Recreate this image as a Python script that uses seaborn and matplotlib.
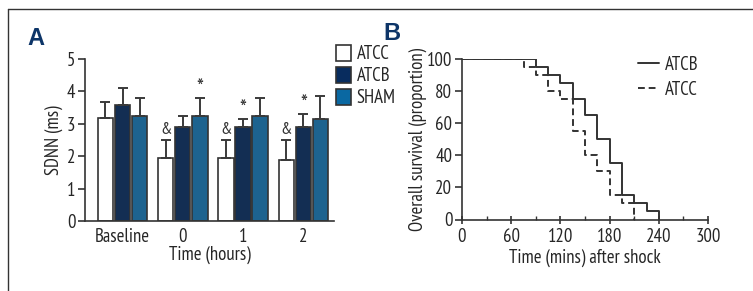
import numpy as np
import pandas as pd
import matplotlib
matplotlib.use('Agg')
import matplotlib.pyplot as plt
import seaborn as sns
from matplotlib.patches import Patch
from matplotlib.lines import Line2D
from matplotlib.ticker import MultipleLocator

# ---- data: panel A ----
times = ['Baseline', '0', '1', '2']
groups = ['ATCC', 'ATCB', 'SHAM']
atcc_mean = [3.17, 1.94, 1.94, 1.88]
atcb_mean = [3.58, 2.89, 2.89, 2.89]
sham_mean = [3.23, 3.23, 3.23, 3.16]
atcc_err = [0.49, 0.56, 0.56, 0.61]
atcb_err = [0.51, 0.34, 0.26, 0.40]
sham_err = [0.56, 0.56, 0.56, 0.71]
atcc_mark = ['', '&', '&', '&']
atcb_mark = ['', '', '*', '*']
sham_mark = ['', '*', '', '']

# ---- data: panel B ----
atcb_t = [0, 90, 105, 120, 135, 150, 165, 180, 195, 210, 225, 240]
atcb_s = [100, 95, 90, 85, 75, 65, 50, 35, 15, 10, 5, 0]
atcc_t = [0, 75, 90, 105, 120, 135, 150, 165, 180, 195, 210]
atcc_s = [100, 95, 90, 80, 75, 55, 40, 30, 15, 10, 0]

sns.set_style('ticks')
plt.rcParams['font.family'] = ['PT Sans Narrow', 'Roboto Condensed', 'Archivo Narrow',
                               'Barlow Semi Condensed', 'DejaVu Sans']
FS = 13.5
plt.rcParams['font.size'] = FS

W, H = 753, 291
fig = plt.figure(figsize=(W / 100, H / 100), dpi=100)

ink = '#333333'
colors = {'ATCC': '#ffffff', 'ATCB': '#082c5e', 'SHAM': '#0a68a2'}

# frame lines
fig.add_artist(Line2D([8 / W, 1], [1 - 9 / H, 1 - 9 / H], color=ink, lw=1))
fig.add_artist(Line2D([8 / W, 8 / W], [0, 1 - 9 / H], color=ink, lw=1))

# ---------------- Panel A ----------------
axA = fig.add_axes([85 / W, 1 - 221 / H, (334 - 85) / W, (221 - 59) / H])
rows = []
for g, m in zip(groups, [atcc_mean, atcb_mean, sham_mean]):
    for t, v in zip(times, m):
        rows.append({'time': t, 'group': g, 'value': v})
dfA = pd.DataFrame(rows)
sns.barplot(data=dfA, x='time', y='value', hue='group', order=times,
            hue_order=groups, palette=colors, width=0.85, gap=0.1,
            edgecolor=ink, linewidth=1.2, errorbar=None, legend=False, ax=axA)

bars = sorted(axA.patches, key=lambda p: p.get_x())
centers = [p.get_x() + p.get_width() / 2 for p in bars]
means = [m[i] for i in range(len(times)) for m in (atcc_mean, atcb_mean, sham_mean)]
errs = [e[i] for i in range(len(times)) for e in (atcc_err, atcb_err, sham_err)]
marks = [mk[i] for i in range(len(times)) for mk in (atcc_mark, atcb_mark, sham_mark)]
axA.errorbar(centers, means, yerr=[np.zeros(len(errs)), errs], fmt='none',
             ecolor='#3a3a3a', elinewidth=1.4, capsize=3.6, capthick=1.4, zorder=1)
for x, m, e, mk in zip(centers, means, errs, marks):
    if mk == '&':
        axA.text(x, m + e + 0.06, mk, ha='center', va='bottom', fontsize=12.5, color=ink)
    elif mk:
        axA.text(x, m + e - 0.08, mk, ha='center', va='bottom', fontsize=17, color=ink)

axA.set_ylim(0, 5)
axA.set_xlim(-0.623, 3.51)
axA.set_yticks([0, 1, 2, 3, 4, 5])
axA.set_xlabel('Time (hours)', fontsize=FS, labelpad=0)
axA.set_ylabel('SDNN (ms)', fontsize=FS, labelpad=3)
axA.tick_params(axis='x', length=0, labelsize=FS, pad=5)
axA.tick_params(axis='y', length=5, width=1.2, color=ink, labelsize=FS, pad=2)
sns.despine(ax=axA)
for s in ('left', 'bottom'):
    axA.spines[s].set_color(ink)
    axA.spines[s].set_linewidth(1.2)

handles = [Patch(facecolor=colors[g], edgecolor=ink, linewidth=1.2, label=g) for g in groups]
fig.legend(handles=handles, loc='upper left', bbox_to_anchor=(336 / W, 1 - 45 / H),
           frameon=False, handlelength=0.8, handleheight=0.9, handletextpad=0.3,
           labelspacing=0.2, fontsize=FS, borderaxespad=0, borderpad=0)

fig.text(27 / W, 1 - 45 / H, 'A', fontsize=17, fontweight='bold', color='#0d3568',
         family=['Liberation Sans', 'DejaVu Sans'], ha='left', va='baseline')
fig.text(383 / W, 1 - 40 / H, 'B', fontsize=17, fontweight='bold', color='#0d3568',
         family=['Liberation Sans', 'DejaVu Sans'], ha='left', va='baseline')

# ---------------- Panel B ----------------
axB = fig.add_axes([462 / W, 1 - 219.5 / H, (708 - 462) / W, (219.5 - 59) / H])
dfB = pd.concat([
    pd.DataFrame({'t': atcb_t, 's': atcb_s, 'group': 'ATCB'}),
    pd.DataFrame({'t': atcc_t, 's': atcc_s, 'group': 'ATCC'}),
])
sns.lineplot(data=dfB, x='t', y='s', hue='group', style='group',
             hue_order=['ATCB', 'ATCC'], style_order=['ATCB', 'ATCC'],
             palette={'ATCB': ink, 'ATCC': ink},
             dashes={'ATCB': '', 'ATCC': (3.5, 2)},
             estimator=None, sort=False, drawstyle='steps-post',
             linewidth=1.4, legend=False, ax=axB)
axB.set_xlim(0, 300)
axB.set_ylim(0, 100)
axB.set_xticks([0, 60, 120, 180, 240, 300])
axB.xaxis.set_minor_locator(MultipleLocator(30))
axB.set_yticks([0, 20, 40, 60, 80, 100])
axB.set_xlabel('Time (mins) after shock', fontsize=FS, labelpad=2)
axB.set_ylabel('Overall survival (proportion)', fontsize=FS, labelpad=0)
axB.tick_params(axis='x', which='major', direction='inout', length=6, width=1.2,
                color=ink, labelsize=FS, pad=3)
axB.tick_params(axis='x', which='minor', direction='in', length=3, width=1.0, color=ink)
axB.tick_params(axis='y', length=5, width=1.2, color=ink, labelsize=FS, pad=2)
sns.despine(ax=axB)
for s in ('left', 'bottom'):
    axB.spines[s].set_color(ink)
    axB.spines[s].set_linewidth(1.2)

lh = [Line2D([], [], color=ink, lw=1.4, label='ATCB'),
      Line2D([], [], color=ink, lw=1.4, ls=(0, (3.5, 2)), label='ATCC')]
fig.legend(handles=lh, loc='upper left', bbox_to_anchor=(638 / W, 1 - 56 / H),
           frameon=False, handlelength=1.1, handletextpad=0.35, labelspacing=0.35,
           fontsize=FS, borderaxespad=0, borderpad=0)

fig.savefig('out.png', dpi=100)
